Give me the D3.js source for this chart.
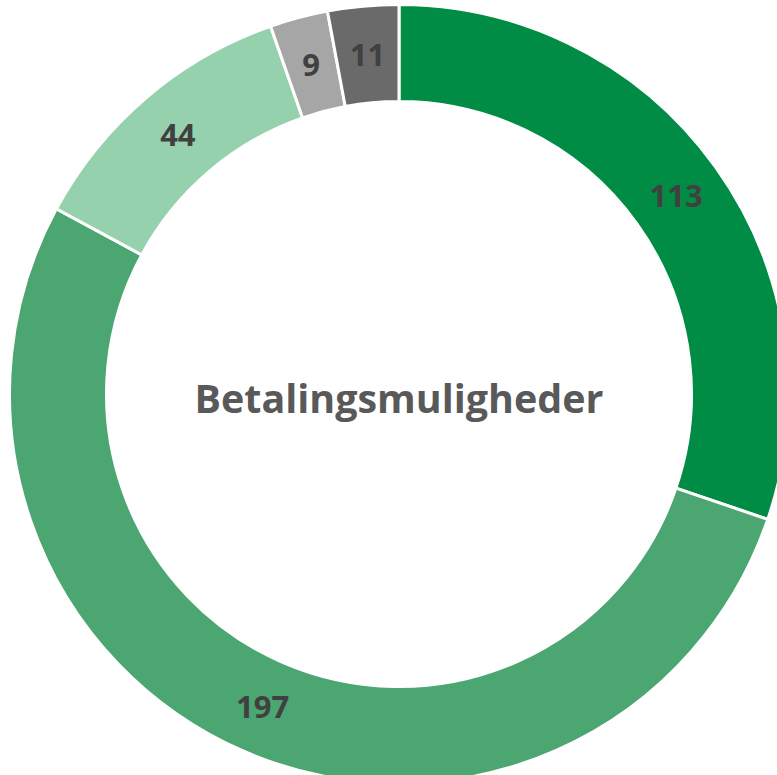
<!DOCTYPE html>
<html>
<head>
<meta charset="utf-8">
<script src="https://cdn.jsdelivr.net/npm/d3@7"></script>
<style>
  html, body { margin: 0; padding: 0; background: #fff; }
  svg { display: block; }
</style>
</head>
<body>
<svg id="chart" width="777" height="775"></svg>
<script>
const categories = ["A", "B", "C", "D", "E"];
const values = [113, 197, 44, 9, 11];
const colors = ["#008C44", "#4BA671", "#95D1AD", "#A6A6A6", "#6A6A6A"];
const centerTitle = "Betalingsmuligheder";

const svg = d3.select("#chart");
const cx = 399, cy = 394;
const outerR = 389.5, innerR = 292.5;

const data = categories.map((c, i) => ({ cat: c, value: values[i], color: colors[i] }));

const pie = d3.pie().value(d => d.value).sort(null);
const arc = d3.arc().innerRadius(innerR).outerRadius(outerR);
const labelArc = d3.arc().innerRadius((innerR + outerR) / 2).outerRadius((innerR + outerR) / 2);

const g = svg.append("g").attr("transform", `translate(${cx},${cy})`);
const arcs = pie(data);

g.selectAll("path.slice")
  .data(arcs)
  .join("path")
  .attr("class", "slice")
  .attr("d", arc)
  .attr("fill", d => d.data.color)
  .attr("stroke", "#ffffff")
  .attr("stroke-width", 3)
  .attr("stroke-linejoin", "miter");

g.selectAll("text.lbl")
  .data(arcs)
  .join("text")
  .attr("class", "lbl")
  .attr("transform", d => {
    const [x, y] = labelArc.centroid(d);
    return `translate(${x},${y})`;
  })
  .attr("text-anchor", "middle")
  .attr("dy", "0.36em")
  .attr("font-family", "'Open Sans', sans-serif")
  .attr("font-weight", "bold")
  .attr("font-size", 31)
  .attr("fill", "#404040")
  .text(d => d.data.value);

const title = svg.append("text")
  .attr("x", cx)
  .attr("y", 413)
  .attr("text-anchor", "middle")
  .attr("font-family", "'Open Sans', sans-serif")
  .attr("font-weight", "bold")
  .attr("font-size", 38)
  .attr("fill", "#595959")
  .text(centerTitle);

// fit title to the reference width
const w = title.node().getComputedTextLength();
const target = 409;
title.attr("font-size", 38 * target / w);
</script>
</body>
</html>
